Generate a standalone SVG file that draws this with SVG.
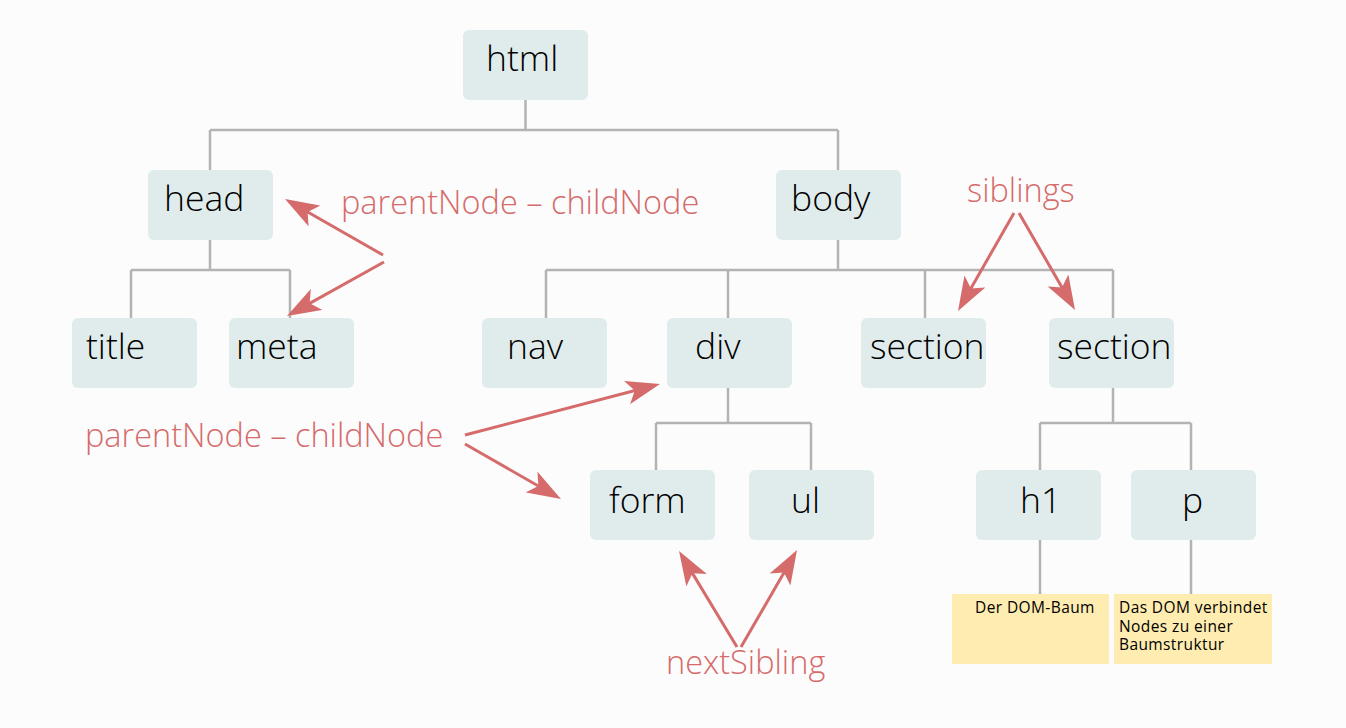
<svg xmlns="http://www.w3.org/2000/svg" width="1346" height="728" viewBox="0 0 1346 728">
<style>
.node rect{fill:#e0ecec}
.node text{font-family:"Open Sans","DejaVu Sans",sans-serif;font-size:35.5px;font-weight:300;fill:#000}
.conn path{fill:none;stroke:#b3b3b3;stroke-width:2.5}
.ann line{stroke:#d56b6b;stroke-width:3}
.lbl{font-family:"Open Sans","DejaVu Sans",sans-serif;font-size:32.5px;font-weight:300;fill:#d56b6b}
.note rect{fill:#feecb0}
.note text{font-family:"Open Sans","DejaVu Sans",sans-serif;font-size:15.5px;letter-spacing:0.4px;fill:#000}
</style>
<defs>
<marker id="ah" markerUnits="userSpaceOnUse" viewBox="0 0 34 24" markerWidth="34" markerHeight="24" refX="24" refY="12" orient="auto">
<path d="M0,0 L34,12 L0,24 L8,12 Z" fill="#d56b6b"/>
</marker>
</defs>
<rect width="1346" height="728" fill="#fcfcfc"/>
<g class="conn" id="connectors">
<path d="M525.5,100 V130 M210,130 H838 M210,130 V170 M838,130 V170"/>
<path d="M210,240 V270 M131,270 H290 M131,270 V318 M290,270 V318"/>
<path d="M838,240 V270 M546,270 H1113 M546,270 V318 M728,270 V318 M925,270 V318 M1113,270 V318"/>
<path d="M728,388 V423 M656,423 H811 M656,423 V470 M811,423 V470"/>
<path d="M1113,388 V423 M1040,423 H1191 M1040,423 V470 M1191,423 V470"/>
<path d="M1040,540 V594 M1191,540 V594"/>
</g>
<g class="node" id="n-html"><rect x="463" y="30" width="125" height="70" rx="6"/><text x="486" y="71">html</text></g>
<g class="node" id="n-head"><rect x="148" y="170" width="125" height="70" rx="6"/><text x="164" y="211">head</text></g>
<g class="node" id="n-body"><rect x="776" y="170" width="125" height="70" rx="6"/><text x="791" y="211">body</text></g>
<g class="node" id="n-title"><rect x="72" y="318" width="125" height="70" rx="6"/><text x="86" y="359">title</text></g>
<g class="node" id="n-meta"><rect x="229" y="318" width="125" height="70" rx="6"/><text x="236" y="359">meta</text></g>
<g class="node" id="n-nav"><rect x="482" y="318" width="125" height="70" rx="6"/><text x="507" y="359">nav</text></g>
<g class="node" id="n-div"><rect x="667" y="318" width="125" height="70" rx="6"/><text x="695" y="359">div</text></g>
<g class="node" id="n-section1"><rect x="861" y="318" width="125" height="70" rx="6"/><text x="870" y="359">section</text></g>
<g class="node" id="n-section2"><rect x="1049" y="318" width="125" height="70" rx="6"/><text x="1057" y="359">section</text></g>
<g class="node" id="n-form"><rect x="590" y="470" width="125" height="70" rx="6"/><text x="609" y="513">form</text></g>
<g class="node" id="n-ul"><rect x="749" y="470" width="125" height="70" rx="6"/><text x="791" y="513">ul</text></g>
<g class="node" id="n-h1"><rect x="976" y="470" width="125" height="70" rx="6"/><text x="1020" y="513">h1</text></g>
<g class="node" id="n-p"><rect x="1131" y="470" width="125" height="70" rx="6"/><text x="1182" y="513">p</text></g>
<g class="note" id="note-h1"><rect x="952" y="594" width="157" height="70"/><text x="975" y="613">Der DOM-Baum</text></g>
<g class="note" id="note-p"><rect x="1114" y="594" width="158" height="70"/><text x="1119" y="613">Das DOM verbindet</text><text x="1119" y="631.5">Nodes zu einer</text><text x="1119" y="650">Baumstruktur</text></g>
<g class="ann" id="annotations">
<line x1="383" y1="255" x2="293.7" y2="204" marker-end="url(#ah)" stroke-width="2.5"/>
<line x1="384" y1="262" x2="295.7" y2="311.1" marker-end="url(#ah)" stroke-width="4.5"/>
<line x1="1014" y1="213" x2="963" y2="302.3" marker-end="url(#ah)"/>
<line x1="1019" y1="213" x2="1070" y2="301.3" marker-end="url(#ah)"/>
<line x1="465" y1="435" x2="650.3" y2="386.5" marker-end="url(#ah)"/>
<line x1="465" y1="444" x2="552.3" y2="494" marker-end="url(#ah)"/>
<line x1="737" y1="647" x2="684.2" y2="559.6" marker-end="url(#ah)"/>
<line x1="741" y1="647" x2="792" y2="558.7" marker-end="url(#ah)"/>
<text class="lbl" x="341" y="214">parentNode – childNode</text>
<text class="lbl" x="967" y="202">siblings</text>
<text class="lbl" x="85" y="447">parentNode – childNode</text>
<text class="lbl" x="666" y="674">nextSibling</text>
</g>
</svg>
